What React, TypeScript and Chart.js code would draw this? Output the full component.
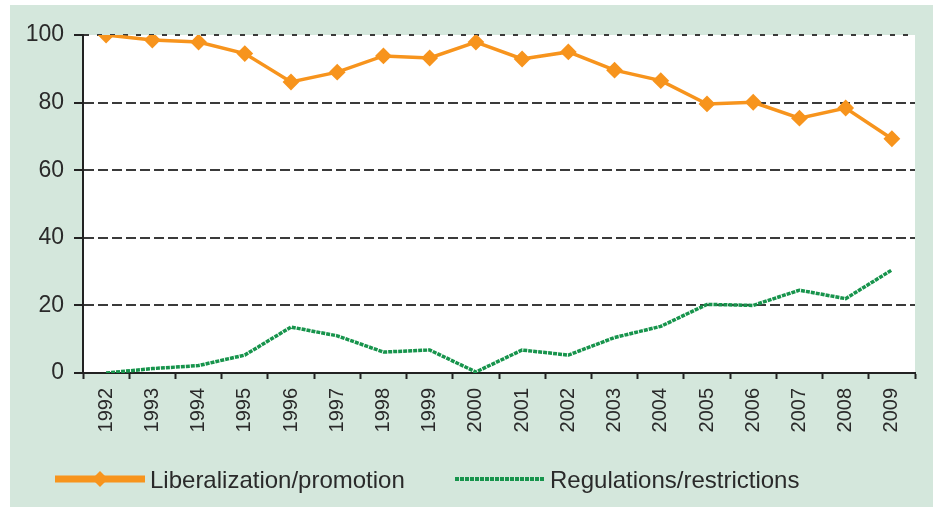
import React, { useEffect, useRef } from "react";
import { Chart, registerables } from "chart.js";

Chart.register(...registerables);

const years = ["1992", "1993", "1994", "1995", "1996", "1997", "1998", "1999", "2000", "2001", "2002", "2003", "2004", "2005", "2006", "2007", "2008", "2009"];
const liberalization = [100, 98.5, 97.9, 94.5, 86.1, 89, 93.8, 93.2, 97.9, 92.9, 95, 89.6, 86.5, 79.6, 80.1, 75.4, 78.4, 69.3];
const regulations = [0, 1.3, 2.2, 5.3, 13.6, 11, 6.2, 6.8, 0.3, 6.8, 5.3, 10.5, 13.8, 20.3, 20, 24.5, 22, 30.5];
const yTicks = [0, 20, 40, 60, 80, 100];
const seriesNames = ["Liberalization/promotion", "Regulations/restrictions"];

const ORANGE = "#f7941d";
const GREEN = "#17944c";
const PANEL = "#d4e7dc";
const TEXT = "#2a2a2a";
const FONT = "'Liberation Sans', Arial, sans-serif";

const plotBg = {
  id: "plotBg",
  beforeDraw(chart: any) {
    const { ctx, chartArea } = chart;
    ctx.save();
    ctx.fillStyle = "#ffffff";
    ctx.fillRect(chartArea.left, chartArea.top, chartArea.right - chartArea.left, chartArea.bottom - chartArea.top);
    ctx.restore();
  },
};

const legendPlugin = {
  id: "customLegend",
  afterDraw(chart: any) {
    const ctx = chart.ctx;
    const ds = chart.data.datasets;
    const starts = [45, 445];
    const y = 474;
    ds.forEach((d: any, i: number) => {
      const x0 = starts[i];
      ctx.save();
      ctx.strokeStyle = d.borderColor;
      if (i === 0) {
        ctx.lineWidth = 7;
        ctx.beginPath();
        ctx.moveTo(x0, y);
        ctx.lineTo(x0 + 90, y);
        ctx.stroke();
        const cx = x0 + 45;
        const r = 8;
        ctx.fillStyle = d.pointBackgroundColor;
        ctx.beginPath();
        ctx.moveTo(cx - r, y);
        ctx.lineTo(cx, y - r);
        ctx.lineTo(cx + r, y);
        ctx.lineTo(cx, y + r);
        ctx.closePath();
        ctx.fill();
      } else {
        ctx.lineWidth = 4;
        ctx.setLineDash(d.borderDash || []);
        ctx.beginPath();
        ctx.moveTo(x0, y);
        ctx.lineTo(x0 + 90, y);
        ctx.stroke();
      }
      ctx.setLineDash([]);
      ctx.fillStyle = TEXT;
      ctx.font = `24px ${FONT}`;
      ctx.textBaseline = "middle";
      ctx.textAlign = "left";
      ctx.fillText(d.label, x0 + 95, y + 2);
      ctx.restore();
    });
  },
};

export default function App() {
  const ref = useRef<HTMLCanvasElement | null>(null);

  useEffect(() => {
    if (!ref.current) return;
    const chart = new Chart(ref.current, {
      type: "line",
      data: {
        labels: years,
        datasets: [
          {
            label: seriesNames[0],
            data: liberalization,
            borderColor: ORANGE,
            backgroundColor: ORANGE,
            pointBackgroundColor: ORANGE,
            pointBorderColor: ORANGE,
            borderWidth: 3.5,
            pointStyle: "rectRot",
            pointRadius: 7,
            pointBorderWidth: 2,
            tension: 0,
          },
          {
            label: seriesNames[1],
            data: regulations,
            borderColor: GREEN,
            backgroundColor: GREEN,
            borderWidth: 3.5,
            borderDash: [4, 1],
            pointRadius: 0,
            tension: 0,
          },
        ],
      },
      options: {
        animation: false,
        responsive: false,
        events: [],
        layout: { padding: { left: 0, right: 18, top: 30, bottom: 0 } },
        plugins: {
          legend: { display: false },
          tooltip: { enabled: false },
          title: { display: false },
        },
        scales: {
          x: {
            type: "category",
            offset: true,
            afterFit: (s: any) => {
              s.height = 134;
            },
            grid: {
              offset: true,
              drawOnChartArea: false,
              drawTicks: true,
              tickLength: 6,
              tickColor: "#222222",
              tickWidth: 2,
            },
            border: { display: true, color: "#222222", width: 2 },
            ticks: {
              minRotation: 90,
              maxRotation: 90,
              autoSkip: false,
              padding: 9,
              color: TEXT,
              font: { family: FONT, size: 20 },
            },
          },
          y: {
            min: 0,
            max: 100,
            afterFit: (s: any) => {
              s.width = 73;
            },
            afterBuildTicks: (s: any) => {
              s.ticks = yTicks.map((v) => ({ value: v }));
            },
            grid: {
              color: "#3a3a3a",
              lineWidth: 2,
              drawTicks: true,
              tickLength: 9,
              tickColor: "#222222",
              tickWidth: 2,
            },
            border: {
              display: true,
              color: "#222222",
              width: 2,
              dash: (c: any) => (c.tick && c.tick.value === 100 ? [5, 8] : [10, 4]),
            },
            ticks: {
              padding: 10,
              color: TEXT,
              font: { family: FONT, size: 23 },
            },
          },
        },
      },
      plugins: [plotBg, legendPlugin],
    } as any);
    return () => chart.destroy();
  }, []);

  return (
    <div style={{ position: "fixed", left: 0, top: 0, width: 933, height: 507, background: "#ffffff" }}>
      <div style={{ position: "absolute", left: 10, top: 5, width: 923, height: 502, background: PANEL }}>
        <canvas ref={ref} width={923} height={502} style={{ width: 923, height: 502, display: "block" }} />
      </div>
    </div>
  );
}
